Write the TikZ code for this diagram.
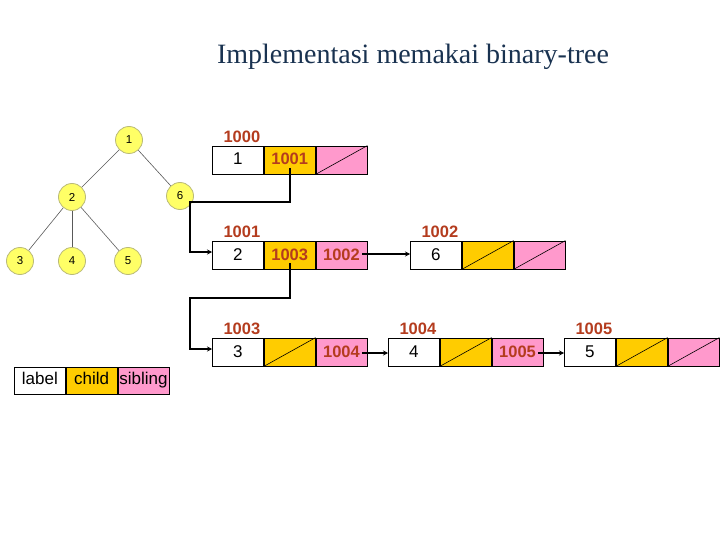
\documentclass[tikz,border=0pt]{standalone}
\usepackage{fontspec}
\setmainfont{Liberation Sans}
\newfontfamily\titlefont{Liberation Serif}
\usetikzlibrary{arrows.meta,calc}
\definecolor{ptr}{RGB}{180,60,30}
\definecolor{gold}{RGB}{255,204,0}
\definecolor{pinkc}{RGB}{255,153,204}
\definecolor{titlec}{RGB}{25,50,80}
\definecolor{ballc}{RGB}{255,255,102}
\definecolor{balll}{RGB}{185,185,120}
\tikzset{
  cell/.style={draw=black, line width=0.8pt, minimum width=51pt, minimum height=28pt,
    inner sep=0pt, anchor=west, text height=12pt, text depth=2pt,
    font=\fontsize{17}{17}\selectfont},
  labcell/.style={cell, fill=white},
  chicell/.style={cell, fill=gold, text=ptr, font=\fontsize{16.5}{16.5}\selectfont\bfseries},
  sibcell/.style={cell, fill=pinkc, text=ptr, font=\fontsize{16.5}{16.5}\selectfont\bfseries},
  addr/.style={text=ptr, font=\fontsize{16.5}{16.5}\selectfont\bfseries, anchor=base, inner sep=0pt},
  conn/.style={line width=2pt, -{Stealth[length=5pt,width=5pt]}},
  nil/.style={line width=0.6pt},
  ball/.style={circle, draw=balll, line width=0.8pt, fill=ballc, minimum size=27pt,
    inner sep=0pt, font=\fontsize{11.5}{11.5}\selectfont},
  tedge/.style={draw=black!65, line width=0.6pt},
  legcell/.style={cell, minimum height=27pt, text height=12pt, text depth=3.5pt,
    font=\fontsize{17}{17}\selectfont}
}
\newcommand\Rec[7]{%
  \node[labcell] (#1-l) at (#2,#3) {#5};
  \node[chicell] (#1-c) at (#1-l.east) {#6};
  \node[sibcell] (#1-s) at (#1-c.east) {#7};
  \node[addr] (#1-a) at ($(#1-l.north)+(4,-3)$) {#4};
}
\begin{document}
\begin{tikzpicture}[x=1pt,y=-1pt]
\useasboundingbox (0,0) rectangle (720,540);
\fill[white] (0,0) rectangle (720,540);

% title
\node[font=\titlefont\fontsize{28}{28}\selectfont, text=titlec, anchor=base, inner sep=0pt]
  (title) at (413,64) {Implementasi memakai binary-tree};

% tree
\node[ball] (t1) at (129,140) {1};
\node[ball] (t2) at (72,197) {2};
\node[ball] (t6) at (180,196) {6};
\node[ball] (t3) at (20,261) {3};
\node[ball] (t4) at (72,261) {4};
\node[ball] (t5) at (128,261) {5};
\draw[tedge] (t1) -- (t2);
\draw[tedge] (t1) -- (t6);
\draw[tedge] (t2) -- (t3);
\draw[tedge] (t2) -- (t4);
\draw[tedge] (t2) -- (t5);

% records
\Rec{r1}{212}{160}{1000}{1}{1001}{}
\Rec{r2}{212}{255}{1001}{2}{1003}{1002}
\Rec{b6}{410}{255}{1002}{6}{}{}
\Rec{r3}{212}{352}{1003}{3}{}{1004}
\Rec{b4}{388}{352}{1004}{4}{}{1005}
\Rec{b5}{564}{352}{1005}{5}{}{}

% nil diagonals
\draw[nil] (r1-s.south west) -- (r1-s.north east);
\draw[nil] (b6-c.south west) -- (b6-c.north east);
\draw[nil] (b6-s.south west) -- (b6-s.north east);
\draw[nil] (r3-c.south west) -- (r3-c.north east);
\draw[nil] (b4-c.south west) -- (b4-c.north east);
\draw[nil] (b5-c.south west) -- (b5-c.north east);
\draw[nil] (b5-s.south west) -- (b5-s.north east);

% connectors
\draw[conn] ([yshift=-8pt]r1-c.center) -- ++(0,34) -| ([xshift=-22pt,yshift=3pt]r2-l.west) -- ([yshift=3pt]r2-l.west);
\draw[conn] ([yshift=-8pt]r2-c.center) -- ++(0,35) -| ([xshift=-22pt,yshift=3pt]r3-l.west) -- ([yshift=3pt]r3-l.west);
\draw[conn] ([xshift=-5pt,yshift=1pt]r2-s.east) -- ([yshift=1pt]b6-l.west);
\draw[conn] ([xshift=-5pt,yshift=-1pt]r3-s.east) -- ([yshift=-1pt]b4-l.west);
\draw[conn] ([xshift=-5pt,yshift=-1pt]b4-s.east) -- ([yshift=-1pt]b5-l.west);

% legend
\node[legcell, fill=white] (lg-l) at (14,380.5) {label};
\node[legcell, fill=gold] (lg-c) at (lg-l.east) {child};
\node[legcell, fill=pinkc] (lg-s) at (lg-c.east) {sibling};
\end{tikzpicture}
\end{document}
